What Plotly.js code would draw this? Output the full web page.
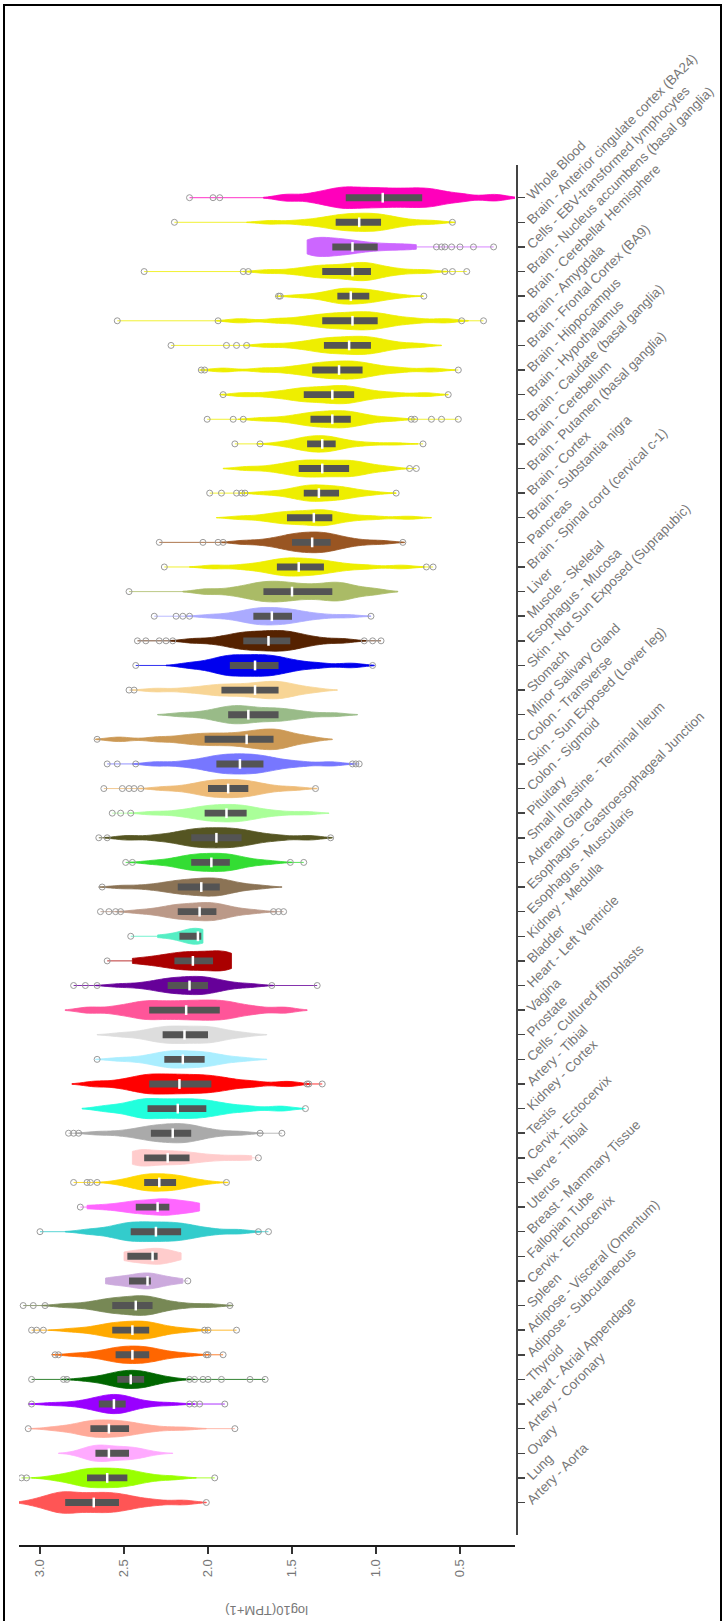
<!DOCTYPE html>
<html>
<head>
<meta charset="utf-8">
<script src="https://cdn.plot.ly/plotly-3.0.1.min.js"></script>
<style>
  html, body { margin: 0; padding: 0; background: #fff; }
  #wrap { position: relative; width: 722px; height: 1621px; overflow: hidden; }
  #chart { position: absolute; left: 0; top: 0; width: 722px; height: 1621px; }
  #frame { position: absolute; left: 3px; top: 4px; width: 715px; height: 1700px;
           border: 2px solid #000; border-bottom: none; pointer-events: none; }
</style>
</head>
<body>
<div id="wrap"><div id="chart"></div><div id="frame"></div></div>
<script>
// ---- data (top of chart to bottom) ----
const tissues = [
  "Whole Blood",
  "Brain - Anterior cingulate cortex (BA24)",
  "Cells - EBV-transformed lymphocytes",
  "Brain - Nucleus accumbens (basal ganglia)",
  "Brain - Cerebellar Hemisphere",
  "Brain - Amygdala",
  "Brain - Frontal Cortex (BA9)",
  "Brain - Hippocampus",
  "Brain - Hypothalamus",
  "Brain - Caudate (basal ganglia)",
  "Brain - Cerebellum",
  "Brain - Putamen (basal ganglia)",
  "Brain - Cortex",
  "Brain - Substantia nigra",
  "Pancreas",
  "Brain - Spinal cord (cervical c-1)",
  "Liver",
  "Muscle - Skeletal",
  "Esophagus - Mucosa",
  "Skin - Not Sun Exposed (Suprapubic)",
  "Stomach",
  "Minor Salivary Gland",
  "Colon - Transverse",
  "Skin - Sun Exposed (Lower leg)",
  "Colon - Sigmoid",
  "Pituitary",
  "Small Intestine - Terminal Ileum",
  "Adrenal Gland",
  "Esophagus - Gastroesophageal Junction",
  "Esophagus - Muscularis",
  "Kidney - Medulla",
  "Bladder",
  "Heart - Left Ventricle",
  "Vagina",
  "Prostate",
  "Cells - Cultured fibroblasts",
  "Artery - Tibial",
  "Kidney - Cortex",
  "Testis",
  "Cervix - Ectocervix",
  "Nerve - Tibial",
  "Uterus",
  "Breast - Mammary Tissue",
  "Fallopian Tube",
  "Cervix - Endocervix",
  "Spleen",
  "Adipose - Visceral (Omentum)",
  "Adipose - Subcutaneous",
  "Thyroid",
  "Heart - Atrial Appendage",
  "Artery - Coronary",
  "Ovary",
  "Lung",
  "Artery - Aorta"
];

const q3 = [1.18,1.24,1.26,1.32,1.23,1.32,1.31,1.38,1.43,1.39,1.41,1.46,1.43,1.53,1.50,1.59,1.67,1.73,1.79,1.87,1.92,1.88,2.02,1.95,2.00,2.02,2.10,2.10,2.18,2.18,2.17,2.20,2.24,2.35,2.27,2.26,2.35,2.36,2.34,2.38,2.38,2.43,2.46,2.48,2.47,2.57,2.57,2.55,2.54,2.65,2.70,2.67,2.72,2.85];
const medians = [0.96,1.10,1.14,1.14,1.15,1.14,1.16,1.22,1.26,1.26,1.32,1.32,1.34,1.37,1.38,1.46,1.50,1.62,1.64,1.72,1.72,1.76,1.77,1.81,1.88,1.89,1.95,1.98,2.04,2.05,2.06,2.09,2.11,2.13,2.14,2.15,2.17,2.18,2.21,2.24,2.29,2.30,2.31,2.33,2.36,2.43,2.45,2.45,2.46,2.56,2.59,2.59,2.60,2.68];
const q1 = [0.725,0.97,0.99,1.03,1.04,0.99,1.03,1.08,1.13,1.15,1.24,1.16,1.22,1.26,1.27,1.31,1.26,1.50,1.51,1.58,1.58,1.58,1.61,1.67,1.76,1.77,1.80,1.87,1.93,1.95,2.04,1.97,2.00,1.93,2.00,2.02,1.98,2.01,2.10,2.11,2.19,2.23,2.16,2.30,2.34,2.33,2.35,2.35,2.38,2.49,2.47,2.47,2.48,2.53];

const samples = [
  [1.53,1.37,1.28,1.22,1.18,1.125,1.07,1.015,0.96,0.90,0.84,0.78,0.725,0.67,0.605,0.49,0.295],
  [1.63,1.455,1.35,1.287,1.24,1.205,1.17,1.135,1.10,1.068,1.035,1.003,0.97,0.934,0.886,0.805,0.67],
  [1.41,1.40,1.38,1.36,1.34,1.31,1.28,1.26,1.23,1.20,1.17,1.14,1.10,1.05,0.99,0.92,0.84,0.76],
  [1.65,1.50,1.41,1.36,1.32,1.275,1.23,1.185,1.14,1.113,1.085,1.058,1.03,0.992,0.94,0.854,0.71],
  [1.46,1.357,1.294,1.258,1.23,1.21,1.19,1.17,1.15,1.123,1.095,1.068,1.04,1.018,0.99,0.941,0.86],
  [1.81,1.59,1.457,1.379,1.32,1.275,1.23,1.185,1.14,1.103,1.065,1.028,0.99,0.942,0.878,0.77,0.59],
  [1.65,1.497,1.405,1.351,1.31,1.273,1.235,1.198,1.16,1.128,1.095,1.063,1.03,0.996,0.952,0.876,0.75],
  [1.91,1.672,1.528,1.444,1.38,1.34,1.30,1.26,1.22,1.185,1.15,1.115,1.08,1.031,0.965,0.855,0.67],
  [1.79,1.628,1.531,1.473,1.43,1.388,1.345,1.303,1.26,1.228,1.195,1.163,1.13,1.08,1.012,0.899,0.71],
  [1.68,1.55,1.471,1.425,1.39,1.358,1.325,1.293,1.26,1.233,1.205,1.178,1.15,1.12,1.08,1.013,0.90],
  [1.57,1.498,1.455,1.429,1.41,1.388,1.365,1.343,1.32,1.30,1.28,1.26,1.24,1.198,1.142,1.048,0.89],
  [1.77,1.63,1.547,1.497,1.46,1.425,1.39,1.355,1.32,1.28,1.24,1.20,1.16,1.134,1.098,1.039,0.94],
  [1.67,1.562,1.497,1.459,1.43,1.408,1.385,1.363,1.34,1.31,1.28,1.25,1.22,1.196,1.164,1.11,1.02],
  [1.81,1.684,1.608,1.564,1.53,1.49,1.45,1.41,1.37,1.343,1.315,1.288,1.26,1.206,1.134,1.013,0.81],
  [1.79,1.66,1.581,1.535,1.50,1.47,1.44,1.41,1.38,1.353,1.325,1.298,1.27,1.234,1.186,1.105,0.97],
  [1.97,1.799,1.696,1.636,1.59,1.558,1.525,1.493,1.46,1.423,1.385,1.348,1.31,1.255,1.181,1.057,0.85],
  [2.01,1.857,1.765,1.711,1.67,1.628,1.585,1.543,1.50,1.44,1.38,1.32,1.26,1.23,1.19,1.123,1.01],
  [1.99,1.873,1.803,1.761,1.73,1.703,1.675,1.648,1.62,1.59,1.56,1.53,1.50,1.46,1.408,1.319,1.17],
  [2.09,1.955,1.874,1.826,1.79,1.753,1.715,1.678,1.64,1.608,1.575,1.543,1.51,1.473,1.423,1.34,1.20],
  [2.11,2.002,1.937,1.899,1.87,1.833,1.795,1.758,1.72,1.685,1.65,1.615,1.58,1.528,1.46,1.344,1.15],
  [2.31,2.135,2.029,1.967,1.92,1.87,1.82,1.77,1.72,1.685,1.65,1.615,1.58,1.555,1.521,1.465,1.37],
  [2.16,2.034,1.958,1.914,1.88,1.85,1.82,1.79,1.76,1.715,1.67,1.625,1.58,1.54,1.488,1.399,1.25],
  [2.53,2.30,2.163,2.081,2.02,1.958,1.895,1.833,1.77,1.73,1.69,1.65,1.61,1.585,1.551,1.495,1.40],
  [2.31,2.148,2.051,1.993,1.95,1.915,1.88,1.845,1.81,1.775,1.74,1.705,1.67,1.622,1.558,1.45,1.27],
  [2.27,2.149,2.076,2.032,2.00,1.97,1.94,1.91,1.88,1.85,1.82,1.79,1.76,1.728,1.684,1.612,1.49],
  [2.33,2.19,2.107,2.057,2.02,1.988,1.955,1.923,1.89,1.86,1.83,1.80,1.77,1.728,1.672,1.578,1.42],
  [2.48,2.309,2.206,2.146,2.10,2.063,2.025,1.988,1.95,1.913,1.875,1.838,1.80,1.752,1.688,1.58,1.40],
  [2.33,2.227,2.164,2.128,2.10,2.07,2.04,2.01,1.98,1.953,1.925,1.898,1.87,1.842,1.806,1.744,1.64],
  [2.51,2.362,2.272,2.22,2.18,2.145,2.11,2.075,2.04,2.013,1.985,1.958,1.93,1.902,1.866,1.804,1.70],
  [2.41,2.307,2.244,2.208,2.18,2.148,2.115,2.083,2.05,2.025,2.0,1.975,1.95,1.924,1.888,1.829,1.73],
  [2.30,2.22,2.17,2.14,2.12,2.10,2.09,2.08,2.07,2.06,2.05,2.045,2.04,2.035,2.03],
  [2.45,2.36,2.30,2.25,2.21,2.18,2.15,2.12,2.09,2.06,2.03,2.00,1.97,1.94,1.91,1.89,1.87,1.86],
  [2.53,2.40,2.321,2.275,2.24,2.208,2.175,2.143,2.11,2.083,2.055,2.028,2.0,1.97,1.93,1.863,1.75],
  [2.71,2.548,2.451,2.393,2.35,2.295,2.24,2.185,2.13,2.08,2.03,1.98,1.93,1.884,1.824,1.721,1.55],
  [2.52,2.407,2.34,2.30,2.27,2.238,2.205,2.173,2.14,2.105,2.07,2.035,2.0,1.975,1.941,1.885,1.79],
  [2.53,2.409,2.336,2.292,2.26,2.233,2.205,2.178,2.15,2.118,2.085,2.053,2.02,1.992,1.956,1.894,1.79],
  [2.67,2.526,2.44,2.388,2.35,2.305,2.26,2.215,2.17,2.123,2.075,2.028,1.98,1.926,1.854,1.733,1.53],
  [2.61,2.498,2.43,2.39,2.36,2.315,2.27,2.225,2.18,2.138,2.095,2.053,2.01,1.957,1.887,1.768,1.57],
  [2.65,2.51,2.427,2.377,2.34,2.308,2.275,2.243,2.21,2.183,2.155,2.128,2.10,2.065,2.019,1.94,1.81],
  [2.45,2.44,2.42,2.40,2.38,2.345,2.31,2.275,2.24,2.21,2.175,2.14,2.11,2.06,2.0,1.92,1.82,1.74],
  [2.53,2.463,2.422,2.398,2.38,2.358,2.335,2.313,2.29,2.265,2.24,2.215,2.19,2.17,2.142,2.097,2.02],
  [2.72,2.62,2.55,2.49,2.45,2.43,2.40,2.37,2.33,2.30,2.28,2.26,2.24,2.22,2.19,2.15,2.11,2.08,2.05],
  [2.71,2.598,2.53,2.49,2.46,2.423,2.385,2.348,2.31,2.273,2.235,2.198,2.16,2.119,2.065,1.973,1.82],
  [2.50,2.49,2.47,2.45,2.42,2.39,2.36,2.34,2.32,2.31,2.30,2.29,2.27,2.25,2.22,2.19,2.16],
  [2.61,2.58,2.54,2.50,2.47,2.44,2.41,2.39,2.37,2.36,2.35,2.34,2.32,2.29,2.25,2.20,2.15],
  [2.85,2.724,2.648,2.604,2.57,2.535,2.50,2.465,2.43,2.405,2.38,2.355,2.33,2.289,2.235,2.143,1.99],
  [2.81,2.702,2.637,2.599,2.57,2.54,2.51,2.48,2.45,2.425,2.40,2.375,2.35,2.324,2.288,2.229,2.13],
  [2.79,2.682,2.617,2.579,2.55,2.525,2.50,2.475,2.45,2.425,2.40,2.375,2.35,2.324,2.288,2.229,2.13],
  [2.73,2.645,2.593,2.563,2.54,2.52,2.50,2.48,2.46,2.44,2.42,2.40,2.38,2.361,2.335,2.292,2.22],
  [2.93,2.804,2.728,2.684,2.65,2.628,2.605,2.583,2.56,2.543,2.525,2.508,2.49,2.458,2.414,2.342,2.22],
  [2.91,2.816,2.759,2.725,2.70,2.673,2.645,2.618,2.59,2.56,2.53,2.50,2.47,2.432,2.38,2.294,2.15],
  [2.75,2.714,2.692,2.68,2.67,2.65,2.63,2.61,2.59,2.56,2.53,2.50,2.47,2.456,2.436,2.404,2.35],
  [2.91,2.825,2.773,2.743,2.72,2.69,2.66,2.63,2.60,2.57,2.54,2.51,2.48,2.448,2.404,2.332,2.21],
  [3.02,2.944,2.898,2.87,2.85,2.808,2.765,2.723,2.68,2.643,2.605,2.568,2.53,2.484,2.424,2.321,2.15]
];

const outliers = [
  [2.11,1.97,1.93],
  [2.20,0.545],
  [0.64,0.61,0.59,0.55,0.50,0.42,0.30],
  [2.38,1.79,1.76,0.59,0.545,0.46],
  [1.58,1.57,0.715],
  [2.54,1.94,0.49,0.36],
  [2.22,1.89,1.83,1.77],
  [2.04,2.02,0.51],
  [1.91,0.57],
  [2.005,1.85,1.79,0.79,0.77,0.67,0.61,0.51],
  [1.84,1.69,0.72],
  [0.80,0.76],
  [1.99,1.92,1.83,1.80,1.78,0.88],
  [],
  [2.29,2.03,1.94,1.91,0.84],
  [2.26,0.70,0.66],
  [2.47],
  [2.32,2.19,2.15,2.11,1.03],
  [2.42,2.37,2.29,2.25,2.21,1.07,1.02,0.97],
  [2.43,1.02],
  [2.47,2.44],
  [],
  [2.66],
  [2.60,2.54,2.43,1.14,1.12,1.10],
  [2.62,2.51,2.47,2.44,2.40,1.36],
  [2.57,2.52,2.46],
  [2.65,2.60,1.27],
  [2.49,2.45,1.51,1.43],
  [2.63],
  [2.64,2.59,2.55,2.52,1.61,1.58,1.55],
  [2.46],
  [2.60],
  [2.80,2.73,2.66,1.62,1.35],
  [],
  [],
  [2.66],
  [1.41,1.40,1.32],
  [1.42],
  [2.83,2.80,2.77,1.69,1.56],
  [1.70],
  [2.80,2.72,2.70,2.66,1.89],
  [2.76],
  [3.00,1.70,1.64],
  [],
  [2.12],
  [3.10,3.04,2.97,1.87],
  [3.05,3.02,2.98,2.02,2.00,1.83],
  [2.91,2.89,2.01,2.00,1.91],
  [3.05,2.86,2.84,2.11,2.08,2.03,2.00,1.92,1.75,1.66],
  [3.05,2.11,2.08,2.05,1.90],
  [3.07,1.84],
  [],
  [3.11,3.08,1.96],
  [2.01]
];

const xTickVals = [3.0, 2.5, 2.0, 1.5, 1.0, 0.5];
const xTickText = ["3.0", "2.5", "2.0", "1.5", "1.0", "0.5"];

// ---- styles ----
const colors = ["#FF00BB","#EEEE00","#CC66FF","#EEEE00","#EEEE00","#EEEE00","#EEEE00","#EEEE00","#EEEE00","#EEEE00","#EEEE00","#EEEE00","#EEEE00","#EEEE00","#995522","#EEEE00","#AABB66","#AAAAFF","#552200","#0000EE","#F8D595","#99BB88","#CC9955","#7777FF","#EEBB77","#AAFF99","#555522","#33DD33","#8B7355","#BB9988","#55EEC4","#AA0000","#660099","#FF5599","#DDDDDD","#AAEEFF","#FF0000","#22FFDD","#AAAAAA","#FFCCCC","#FFD700","#FF66FF","#33CCCC","#FFCCCC","#CCAADD","#778855","#FFAA00","#FF6600","#006600","#9900FF","#FFAA99","#FFAAFF","#99FF00","#FF5555"];
const violinWidths = [0.88,0.74,0.78,0.74,0.65,0.74,0.74,0.74,0.74,0.7,0.67,0.7,0.67,0.65,0.84,0.74,0.84,0.71,0.84,0.88,0.71,0.74,0.84,0.82,0.74,0.71,0.82,0.74,0.74,0.74,0.65,0.82,0.74,0.82,0.71,0.71,0.82,0.82,0.78,0.67,0.71,0.67,0.8,0.65,0.65,0.8,0.74,0.71,0.74,0.78,0.71,0.67,0.8,0.88];
const bluntRows = ["Cells - EBV-transformed lymphocytes","Kidney - Medulla","Bladder","Cervix - Ectocervix","Uterus","Fallopian Tube","Cervix - Endocervix"];
const FONT = '"Liberation Sans", Arial, Helvetica, sans-serif';

const traces = [];
tissues.forEach((t, i) => {
  const vals = samples[i];
  traces.push({
    type: 'violin', orientation: 'h',
    x: vals, y: vals.map(() => t),
    fillcolor: colors[i], line: { color: colors[i], width: 0.8 },
    opacity: 1, width: violinWidths[i], bandwidth: 0.07,
    spanmode: bluntRows.includes(t) ? 'hard' : 'soft', scalemode: 'width',
    points: false, box: { visible: false }, meanline: { visible: false },
    hoverinfo: 'skip', showlegend: false
  });
});

// thin tails from each violin to its farthest outliers
tissues.forEach((t, i) => {
  const hi = Math.max(...samples[i]), lo = Math.min(...samples[i]);
  const up = outliers[i].filter(v => v > hi), dn = outliers[i].filter(v => v < lo);
  const xs = [], ys = [];
  if (up.length) { xs.push(hi, Math.max(...up), null); ys.push(t, t, null); }
  if (dn.length) { xs.push(lo, Math.min(...dn), null); ys.push(t, t, null); }
  if (xs.length) traces.push({
    type: 'scatter', mode: 'lines', x: xs, y: ys,
    line: { color: colors[i], width: 1 }, opacity: 0.8,
    hoverinfo: 'skip', showlegend: false
  });
});

traces.push({
  type: 'box', orientation: 'h', y: tissues,
  q1: q1, median: medians, q3: q3, lowerfence: q1, upperfence: q3,
  width: 0.28, fillcolor: '#545454', line: { color: '#545454', width: 0 },
  boxpoints: false, hoverinfo: 'skip', showlegend: false
});

traces.push({
  type: 'scatter', mode: 'markers', x: medians, y: tissues,
  marker: { symbol: 'line-ns', size: 7, color: '#ffffff', line: { color: '#ffffff', width: 2.5 } },
  hoverinfo: 'skip', showlegend: false
});

const ox = [], oy = [];
tissues.forEach((t, i) => outliers[i].forEach(v => { ox.push(v); oy.push(t); }));
traces.push({
  type: 'scatter', mode: 'markers', x: ox, y: oy,
  marker: { symbol: 'circle-open', size: 6, color: '#9a9a9a', line: { color: '#9a9a9a', width: 1 } },
  hoverinfo: 'skip', showlegend: false
});

const layout = {
  width: 722, height: 1621,
  paper_bgcolor: '#ffffff', plot_bgcolor: '#ffffff',
  margin: { l: 19, r: 205, t: 165, b: 75, pad: 0 },
  showlegend: false,
  violinmode: 'overlay', boxmode: 'overlay',
  font: { family: FONT },
  xaxis: {
    range: [3.125, 0.1726], domain: [0, 0.996], anchor: 'free', position: 0,
    showgrid: false, zeroline: false, showline: true, linecolor: '#1a1a1a', linewidth: 2,
    ticks: 'outside', ticklen: 7, tickwidth: 1.5, tickcolor: '#333',
    tickvals: xTickVals, ticktext: xTickText, tickangle: -90,
    tickfont: { family: FONT, size: 13, color: '#777' }
  },
  yaxis: {
    type: 'category', categoryorder: 'array', categoryarray: tissues.slice().reverse(),
    range: [-1.318, 54.328], domain: [0.008, 1], anchor: 'free', position: 1, side: 'right',
    showgrid: false, zeroline: false, showline: true, linecolor: '#444', linewidth: 2,
    ticks: 'outside', ticklen: 7, tickwidth: 1.5, tickcolor: '#444', tickangle: -45,
    tickfont: { family: FONT, size: 13.5, color: '#777' }
  },
  annotations: [{
    text: 'log10(TPM+1)', textangle: 180, showarrow: false,
    xref: 'paper', yref: 'paper', x: 0.498, y: -0.0463, xanchor: 'center', yanchor: 'middle',
    font: { family: FONT, size: 13, color: '#777' }
  }]
};

Plotly.newPlot('chart', traces, layout, { staticPlot: true, displayModeBar: false });
</script>
</body>
</html>
